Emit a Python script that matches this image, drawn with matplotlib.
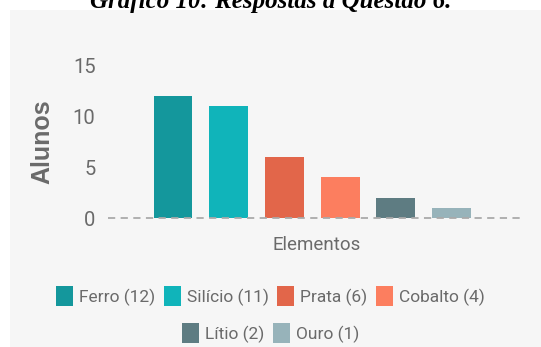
import matplotlib.pyplot as plt
from matplotlib.patches import Rectangle

elementos = ['Ferro', 'Silício', 'Prata', 'Cobalto', 'Lítio', 'Ouro']
alunos = [12, 11, 6, 4, 2, 1]
cores = ['#14979c', '#10b4ba', '#e2664a', '#fc7e5f', '#5e7c82', '#97b3ba']
yticks = [0, 5, 10, 15]

fonte = ['Roboto', 'DejaVu Sans']
cinza = '#6a6a6a'

fig = plt.figure(figsize=(5.41, 3.47), dpi=100)
fig.patch.set_facecolor('white')

# painel cinza claro atrás do gráfico
fig.add_artist(Rectangle((10 / 541, 0), 1, 1 - 10 / 347,
                         transform=fig.transFigure, facecolor='#f6f6f6',
                         edgecolor='none', zorder=0))

fig.text(0.5, 1 - 8 / 347, 'Gráfico 10: Respostas à Questão 6.',
         ha='center', va='baseline', fontsize=18, fontweight='bold',
         fontstyle='italic', family='Liberation Serif', color='black')

ax = fig.add_axes([108 / 541, 1 - 218 / 347, 417 / 541, 152.5 / 347])
ax.set_facecolor('none')

x = list(range(len(alunos)))
barras = ax.bar(x, alunos, width=0.70, color=cores, zorder=2)

ax.axhline(0, color='#aaaaaa', lw=1.3, ls=(0, (4, 3)), zorder=3, clip_on=False)

ax.set_xlim(-1.167, 6.32)
ax.set_ylim(0, 15)
ax.set_yticks(yticks)
ax.set_xticks([])
ax.tick_params(axis='y', length=0, pad=9, labelsize=14.5, labelcolor=cinza)
for t in ax.get_yticklabels():
    t.set_family(fonte)
for s in ax.spines.values():
    s.set_visible(False)

ax.set_xlabel('Elementos', fontsize=13.5, color=cinza, family=fonte, labelpad=13)
ax.set_ylabel('Alunos', fontsize=18, fontweight='bold', color=cinza,
              family=['Liberation Sans', 'DejaVu Sans'], labelpad=13)

rotulos = [f'{e} ({v})' for e, v in zip(elementos, alunos)]
opts = dict(frameon=False, handlelength=0.98, handleheight=1.44,
            handletextpad=0.35, columnspacing=0.5, borderaxespad=0,
            prop={'family': fonte, 'size': 12.5}, labelcolor=cinza)

leg1 = fig.legend(barras[:4], rotulos[:4], ncol=4, loc='center',
                  bbox_to_anchor=(0.5, 1 - 296 / 347), **opts)
leg2 = fig.legend(barras[4:], rotulos[4:], ncol=2, loc='center',
                  bbox_to_anchor=(0.5, 1 - 333 / 347), **opts)

plt.savefig('out.png', dpi=100)
